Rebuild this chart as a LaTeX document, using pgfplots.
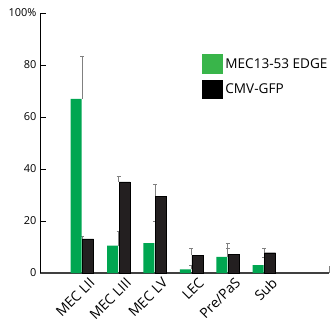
\documentclass[border=0pt]{standalone}
\usepackage{fontspec}
\setmainfont{Open Sans}
\usepackage{pgfplots}
\usepackage{pgfplotstable}
\pgfplotsset{compat=1.18}
\definecolor{barg}{HTML}{00A651}
\definecolor{legg}{HTML}{39B54A}
\definecolor{bark}{HTML}{231F20}
\pgfplotstableread{
x g ge k ke
0 67.0 16.5 13.1 0.9
1 10.5 5.5 35.0 2.3
2 11.5 8.2 29.6 4.6
3 1.4 1.4 6.9 2.4
4 6.2 3.3 7.3 4.1
5 3.0 2.9 7.8 1.5
}\data
\begin{document}
\begin{tikzpicture}
\useasboundingbox (0,0) rectangle (336bp,322bp);
\begin{axis}[
  at={(40bp,49bp)}, anchor=south west,
  scale only axis, width=289bp, height=260bp,
  xmin=-1.157, xmax=6.78, ymin=0, ymax=100,
  axis x line=bottom, axis y line=left,
  x axis line style={-, draw=black!75, line width=1.1pt},
  y axis line style={-, draw=black, line width=1pt},
  xtick={0,...,5},
  xticklabels={MEC LII,MEC LIII,MEC LV,LEC,Pre/PaS,Sub},
  x tick label style={rotate=45, anchor=north east, font=\fontsize{14}{15}\selectfont, inner sep=0pt, xshift=2bp, yshift=-7bp},
  major x tick style={draw=none},
  ytick={0,20,40,60,80,100},
  yticklabels={0,20,40,60,80,100\%},
  y tick label style={font=\fontsize{11}{12}\selectfont},
  y tick style={black, line width=0.8pt},
  tick align=inside, major tick length=6bp,
  legend style={at={(0.56,0.842)}, anchor=north west, draw=none, fill=none,
    font=\fontsize{13.6}{16}\selectfont, row sep=6bp, inner sep=0pt,
    nodes={inner sep=3bp, xshift=2bp}},
  legend cell align=left,
  clip=false,
]
\addlegendimage{legend image code/.code={\fill[legg] (0bp,-9.5bp) rectangle (20bp,9.5bp);}}
\addlegendentry{MEC13-53 EDGE}
\addlegendimage{legend image code/.code={\fill[black] (0bp,-9bp) rectangle (20bp,9bp);}}
\addlegendentry{CMV-GFP}
\addplot[ybar, draw=none, fill=none, bar width=11bp, bar shift=-6bp, forget plot,
  error bars/.cd, y dir=plus, y explicit,
  error bar style={black!50, line width=0.8pt},
  error mark options={black!50, line width=0.8pt, mark size=2bp, rotate=90}]
  table[x=x, y=g, y error=ge]{\data};
\addplot[ybar, draw=none, fill=none, bar width=11bp, bar shift=6bp, forget plot,
  error bars/.cd, y dir=plus, y explicit,
  error bar style={black!50, line width=0.8pt},
  error mark options={black!50, line width=0.8pt, mark size=2bp, rotate=90}]
  table[x=x, y=k, y error=ke]{\data};
\addplot[ybar, fill=barg, draw=none, bar width=11bp, bar shift=-6bp, forget plot]
  table[x=x, y=g]{\data};
\addplot[ybar, fill=bark, draw=black, line width=0.4pt, bar width=11bp, bar shift=6bp, forget plot]
  table[x=x, y=k]{\data};
\draw[black!50, line width=1pt] (axis cs:6.78,0) -- (axis cs:6.78,2.5);
\end{axis}
\end{tikzpicture}
\end{document}
